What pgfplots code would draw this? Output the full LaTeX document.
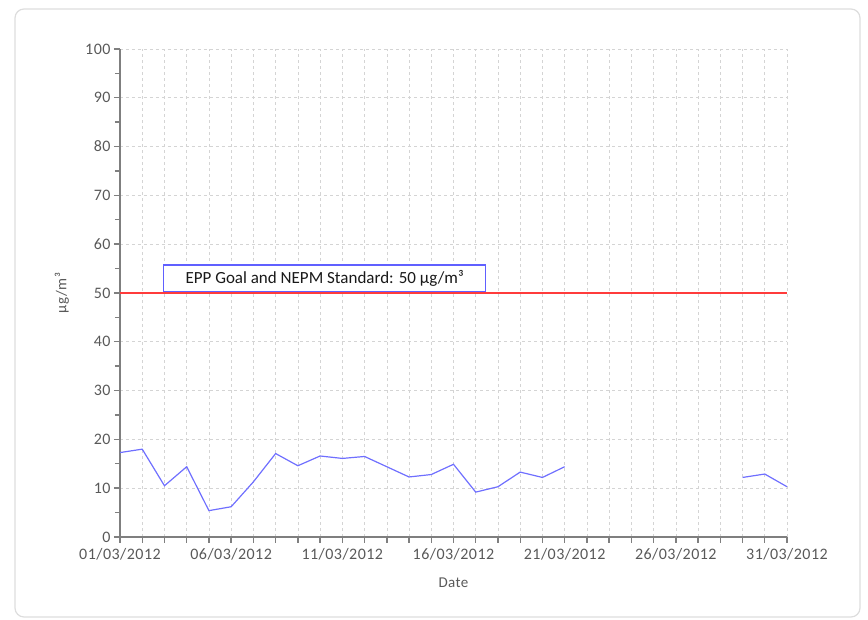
\documentclass[border=0pt]{standalone}
\usepackage{pgfplots}
\pgfplotsset{compat=1.18}
\usepackage{fontspec}
\setmainfont{Carlito}[LetterSpace=3]
\newfontfamily\boxfont{Carlito}[LetterSpace=0]
\definecolor{linecol}{HTML}{6F6FFF}
\definecolor{redline}{HTML}{FF3B3B}
\definecolor{boxcol}{HTML}{6060FF}
\definecolor{axcol}{HTML}{7F7F7F}
\definecolor{txtcol}{HTML}{595959}
\definecolor{gridcol}{HTML}{D4D4D4}
\definecolor{framecol}{HTML}{DDDDDD}
\begin{document}
\begin{tikzpicture}[x=1pt,y=1pt]
\useasboundingbox (-120,-83) rectangle (748,537);
\draw[framecol, line width=1.2pt, rounded corners=9pt] (-105,-80) rectangle (740,528);
\begin{axis}[
  at={(0,0)}, anchor=south west,
  scale only axis, width=667pt, height=488pt,
  xmin=1, xmax=31, ymin=0, ymax=100,
  axis x line*=bottom, axis y line*=left,
  axis line style={axcol, line width=1.6pt, -},
  xtick={1,...,31},
  xticklabels={01/03/2012,,,,,06/03/2012,,,,,11/03/2012,,,,,16/03/2012,,,,,21/03/2012,,,,,26/03/2012,,,,,31/03/2012},
  ytick={0,10,...,100},
  minor y tick num=1,
  tick align=outside,
  major tick length=6pt, minor tick length=5pt,
  tick style={axcol, line width=1.4pt},
  xmajorgrids, ymajorgrids,
  major grid style={gridcol, dashed, line width=0.6pt},
  ticklabel style={font=\fontsize{16}{18}\selectfont, text=txtcol},
  xticklabel style={yshift=-2pt},
  /pgf/number format/assume math mode=true,
  xlabel={Date}, ylabel={µg/m³},
  every axis x label/.style={at={(axis description cs:0.5,-0.094)}, anchor=center, font=\fontsize{15}{17}\selectfont, text=txtcol},
  every axis y label/.style={at={(axis description cs:-0.087,0.5)}, rotate=90, anchor=center, font=\fontsize{15}{17}\selectfont, text=txtcol},
  unbounded coords=jump,
  clip=false,
]
\node[draw=boxcol, fill=white, line width=1.5pt, anchor=south west, minimum width=322pt, minimum height=27pt, inner sep=0pt, font=\boxfont\fontsize{17}{19}\selectfont, text=black!90] at (axis cs:2.93,50) {EPP Goal and NEPM Standard: 50 µg/m³};
\addplot[redline, line width=1.3pt] coordinates {(1,50) (31,50)};
\addplot[linecol, line width=1.2pt] coordinates {
(1,17.3) (2,18.0) (3,10.5) (4,14.4) (5,5.4) (6,6.2) (7,11.3) (8,17.1)
(9,14.6) (10,16.6) (11,16.1) (12,16.5) (13,14.4) (14,12.3) (15,12.8)
(16,14.9) (17,9.2) (18,10.3) (19,13.3) (20,12.2) (21,14.4)
(22,nan)
(29,12.2) (30,12.9) (31,10.3)
};
\end{axis}
\end{tikzpicture}
\end{document}
